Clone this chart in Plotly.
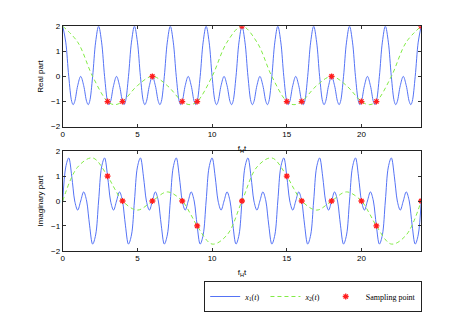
import plotly.graph_objects as go

# ---- data ----
# x1(t): fast signal (10 periods over 0..24)
t_x1 = [0, 0.2, 0.4, 0.6, 0.696, 0.8, 1.0, 1.2, 1.4, 1.6, 1.704, 1.8, 2.0, 2.2,
        2.4, 2.6, 2.8, 3.0, 3.096, 3.2, 3.4, 3.6, 3.8, 4.0, 4.104, 4.2, 4.4, 4.6,
        4.8, 5.0, 5.2, 5.4, 5.496, 5.6, 5.8, 6.0, 6.2, 6.4, 6.504, 6.6, 6.8, 7.0,
        7.2, 7.4, 7.6, 7.8, 7.896, 8.0, 8.2, 8.4, 8.6, 8.8, 8.904, 9.0, 9.2, 9.4,
        9.6, 9.8, 10.0, 10.2, 10.296, 10.4, 10.6, 10.8, 11.0, 11.2, 11.304, 11.4, 11.6, 11.8,
        12.0, 12.2, 12.4, 12.6, 12.696, 12.8, 13.0, 13.2, 13.4, 13.6, 13.704, 13.8, 14.0, 14.2,
        14.4, 14.6, 14.8, 15.0, 15.096, 15.2, 15.4, 15.6, 15.8, 16.0, 16.104, 16.2, 16.4, 16.6,
        16.8, 17.0, 17.2, 17.4, 17.496, 17.6, 17.8, 18.0, 18.2, 18.4, 18.504, 18.6, 18.8, 19.0,
        19.2, 19.4, 19.6, 19.8, 19.896, 20.0, 20.2, 20.4, 20.6, 20.8, 20.904, 21.0, 21.2, 21.4,
        21.6, 21.8, 22.0, 22.2, 22.296, 22.4, 22.6, 22.8, 23.0, 23.2, 23.304, 23.4, 23.6, 23.8,
        24.0]
re_x1 = [2, 1.366, 0, -1, -1.125, -1, -0.366, 0, -0.366, -1, -1.125, -1, 0, 1.366,
         2, 1.366, 0, -1, -1.125, -1, -0.366, 0, -0.366, -1, -1.125, -1, 0, 1.366,
         2, 1.366, 0, -1, -1.125, -1, -0.366, 0, -0.366, -1, -1.125, -1, 0, 1.366,
         2, 1.366, 0, -1, -1.125, -1, -0.366, 0, -0.366, -1, -1.125, -1, 0, 1.366,
         2, 1.366, 0, -1, -1.125, -1, -0.366, 0, -0.366, -1, -1.125, -1, 0, 1.366,
         2, 1.366, 0, -1, -1.125, -1, -0.366, 0, -0.366, -1, -1.125, -1, 0, 1.366,
         2, 1.366, 0, -1, -1.125, -1, -0.366, 0, -0.366, -1, -1.125, -1, 0, 1.366,
         2, 1.366, 0, -1, -1.125, -1, -0.366, 0, -0.366, -1, -1.125, -1, 0, 1.366,
         2, 1.366, 0, -1, -1.125, -1, -0.366, 0, -0.366, -1, -1.125, -1, 0, 1.366,
         2, 1.366, 0, -1, -1.125, -1, -0.366, 0, -0.366, -1, -1.125, -1, 0, 1.366,
         2]
im_x1 = [0, 1.366, 1.732, 1, 0.487, 0, -0.366, 0, 0.366, 0, -0.487, -1, -1.732, -1.366,
         0, 1.366, 1.732, 1, 0.487, 0, -0.366, 0, 0.366, 0, -0.487, -1, -1.732, -1.366,
         0, 1.366, 1.732, 1, 0.487, 0, -0.366, 0, 0.366, 0, -0.487, -1, -1.732, -1.366,
         0, 1.366, 1.732, 1, 0.487, 0, -0.366, 0, 0.366, 0, -0.487, -1, -1.732, -1.366,
         0, 1.366, 1.732, 1, 0.487, 0, -0.366, 0, 0.366, 0, -0.487, -1, -1.732, -1.366,
         0, 1.366, 1.732, 1, 0.487, 0, -0.366, 0, 0.366, 0, -0.487, -1, -1.732, -1.366,
         0, 1.366, 1.732, 1, 0.487, 0, -0.366, 0, 0.366, 0, -0.487, -1, -1.732, -1.366,
         0, 1.366, 1.732, 1, 0.487, 0, -0.366, 0, 0.366, 0, -0.487, -1, -1.732, -1.366,
         0, 1.366, 1.732, 1, 0.487, 0, -0.366, 0, 0.366, 0, -0.487, -1, -1.732, -1.366,
         0, 1.366, 1.732, 1, 0.487, 0, -0.366, 0, 0.366, 0, -0.487, -1, -1.732, -1.366,
         0]

# x2(t): slow signal (2 periods over 0..24)
t_x2 = [0, 1, 2, 3, 3.48, 4, 5, 6, 7, 8, 8.52, 9, 10, 11,
        12, 13, 14, 15, 15.48, 16, 17, 18, 19, 20, 20.52, 21, 22, 23, 24]
re_x2 = [2, 1.366, 0, -1, -1.125, -1, -0.366, 0, -0.366, -1, -1.125, -1, 0, 1.366,
         2, 1.366, 0, -1, -1.125, -1, -0.366, 0, -0.366, -1, -1.125, -1, 0, 1.366, 2]
im_x2 = [0, 1.366, 1.732, 1, 0.487, 0, -0.366, 0, 0.366, 0, -0.487, -1, -1.732, -1.366,
         0, 1.366, 1.732, 1, 0.487, 0, -0.366, 0, 0.366, 0, -0.487, -1, -1.732, -1.366, 0]

# sampling points
t_s = [3, 4, 6, 8, 9, 12, 15, 16, 18, 20, 21, 24]
re_s = [-1, -1, 0, -1, -1, 2, -1, -1, 0, -1, -1, 2]
im_s = [1, 0, 0, 0, -1, 0, 1, 0, 0, 0, -1, 0]

x_ticks = [0, 5, 10, 15, 20]
y_ticks = [-2, -1, 0, 1, 2]

BLUE = "rgb(85,115,245)"
GREEN = "rgb(130,235,70)"
RED = "rgb(255,30,30)"

fig = go.Figure()

def add_panel(xa, ya, y1, y2, ys, show):
    fig.add_trace(go.Scatter(x=t_x1, y=y1, mode="lines", name="<i>x</i><sub>1</sub>(<i>t</i>)",
                             line=dict(color=BLUE, width=1, shape="spline", smoothing=1),
                             xaxis=xa, yaxis=ya, showlegend=show))
    fig.add_trace(go.Scatter(x=t_x2, y=y2, mode="lines", name="<i>x</i><sub>2</sub>(<i>t</i>)",
                             line=dict(color=GREEN, width=1, dash="4px,3px", shape="spline", smoothing=1),
                             xaxis=xa, yaxis=ya, showlegend=show))
    fig.add_trace(go.Scatter(x=t_s, y=ys, mode="markers", name="Sampling point",
                             marker=dict(symbol="asterisk-open", size=5, color=RED,
                                         line=dict(color=RED, width=1.3)),
                             xaxis=xa, yaxis=ya, showlegend=show))

add_panel("x", "y", re_x1, re_x2, re_s, True)
add_panel("x2", "y2", im_x1, im_x2, im_s, False)

# page body has an 8px margin; layout is expressed in reference pixels minus 8
OFF = 8
W, H = 465 - OFF, 312 - OFF
def px_x(v):
    return (v - OFF) / W
def px_y(v):
    return 1 - (v - OFF) / H

xdom = [px_x(61), px_x(421)]
top_dom = [px_y(129), px_y(23)]
bot_dom = [px_y(260), px_y(155)]

tickfont = dict(family="Liberation Sans, Arial, sans-serif", size=8, color="#000")
axis_common = dict(showgrid=False, zeroline=False, ticks="inside", ticklen=3,
                   tickcolor="#333", showline=True, linecolor="#222", linewidth=1,
                   mirror="ticks", tickfont=tickfont)

fig.update_layout(
    width=W, height=H,
    margin=dict(l=0, r=0, t=0, b=0),
    paper_bgcolor="white", plot_bgcolor="white",
    font=dict(family="Liberation Sans, Arial, sans-serif", size=8, color="#000"),
    xaxis=dict(domain=xdom, anchor="y", range=[0, 24], tickvals=x_ticks,
               title=dict(text="f<sub>H</sub>t", standoff=7, font=dict(size=8)), **axis_common),
    yaxis=dict(domain=top_dom, anchor="x", range=[-2, 2], tickvals=y_ticks,
               ticktext=["\u22122", "\u22121", "0", "1", "2"],
               title=dict(text="Real part", standoff=6, font=dict(size=8)), **axis_common),
    xaxis2=dict(domain=xdom, anchor="y2", range=[0, 24], tickvals=x_ticks,
                title=dict(text="f<sub>H</sub>t", standoff=7, font=dict(size=8)), **axis_common),
    yaxis2=dict(domain=bot_dom, anchor="x2", range=[-2, 2], tickvals=y_ticks,
                ticktext=["\u22122", "\u22121", "0", "1", "2"],
                title=dict(text="Imaginary part", standoff=6, font=dict(size=8)), **axis_common),
    legend=dict(orientation="h", x=px_x(422), xanchor="right", y=px_y(292), yanchor="top",
                bordercolor="#222", borderwidth=1, bgcolor="white",
                font=dict(family="Liberation Serif, DejaVu Serif, serif", size=8),
                tracegroupgap=0, itemwidth=30),
    showlegend=True,
)

fig.write_html("out.html")
